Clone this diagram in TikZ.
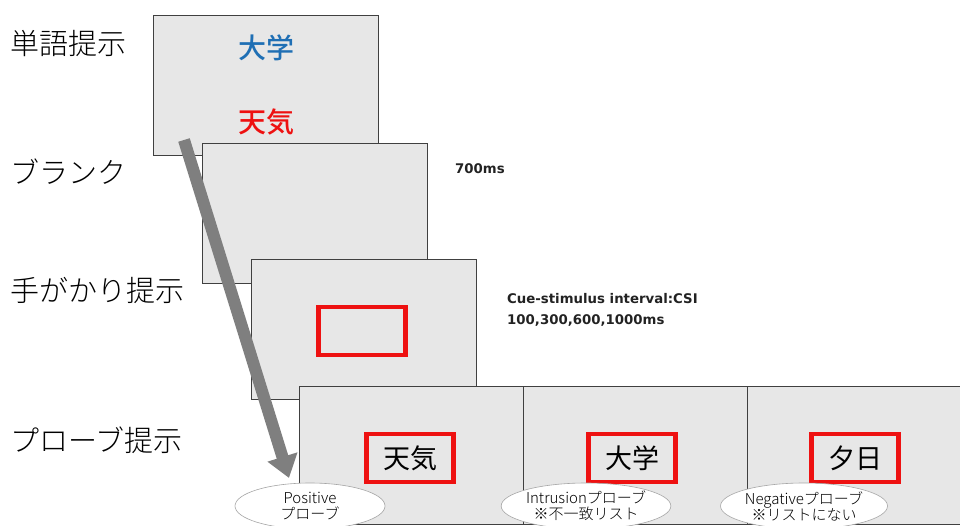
\documentclass[tikz,border=0pt]{standalone}
\usepackage{fontspec}
\setmainfont{Noto Sans CJK JP}
\newfontfamily\jpl{Noto Sans CJK JP Light}
\newfontfamily\jpm{Noto Sans CJK JP Medium}
\newfontfamily\lat{DejaVu Sans}
\usetikzlibrary{arrows.meta,shapes.geometric}
\definecolor{boxfill}{HTML}{E7E7E7}
\definecolor{boxline}{HTML}{404040}
\definecolor{wblue}{HTML}{1F6FB4}
\definecolor{wred}{HTML}{EE1111}
\definecolor{arrowgray}{HTML}{7F7F7F}
\definecolor{txt}{HTML}{222222}
\tikzset{
  screen/.style={draw=boxline, fill=boxfill, line width=0.9pt, minimum width=225pt, minimum height=140pt, anchor=north west, inner sep=0pt, outer sep=0pt},
  panel/.style={draw=boxline, fill=boxfill, line width=0.9pt, minimum width=224pt, minimum height=138pt, anchor=north west, inner sep=0pt, outer sep=0pt},
  rowlabel/.style={anchor=west, font=\jpl\fontsize{29}{32}\selectfont, inner sep=0pt},
  word/.style={font=\jpm\fontsize{28}{32}\selectfont, inner sep=0pt},
  redframe/.style={draw=wred, line width=4.5pt, minimum width=87pt, minimum height=48pt, inner sep=0pt, font=\fontsize{27}{30}\selectfont},
  timing/.style={anchor=west, text=txt, font=\lat\bfseries\fontsize{13.3}{16}\selectfont, inner sep=0pt, align=left},
  bubble/.style={ellipse, draw=gray!70, fill=white, line width=0.6pt, minimum width=150pt, minimum height=46pt, inner sep=0pt, align=center, font=\jpl\fontsize{15}{16}\selectfont},
}
\begin{document}
\begin{tikzpicture}[x=1pt,y=-1pt]
\useasboundingbox (0,0) rectangle (960,526);
\clip (0,0) rectangle (960,526);
% row labels
\node[rowlabel] (l1) at (10,44) {単語提示};
\node[rowlabel] (l2) at (10,172) {ブランク};
\node[rowlabel] (l3) at (10,290) {手がかり提示};
\node[rowlabel] (l4) at (10,440) {プローブ提示};
% screens
\node[screen] (b1) at (153,15) {};
\node[word, text=wblue] (w1) at (266,48) {大学};
\node[word, text=wred] (w2) at (266,122) {天気};
\node[screen] (b2) at (202,143) {};
\node[screen] (b3) at (251,259) {};
\node[redframe] (cue) at (362,331) {};
\node[panel] (p1) at (299,386) {};
\node[panel] (p2) at (523,386) {};
\node[panel] (p3) at (747,386) {};
\node[redframe] (r1) at (410,458) {天気};
\node[redframe] (r2) at (632,458) {大学};
\node[redframe] (r3) at (855,458) {夕日};
% timing texts
\node[timing] (t1) at (455,169) {700ms};
\node[timing] (t2) at (507,310) {Cue-stimulus interval:CSI\\[5pt]100,300,600,1000ms};
% arrow
\coordinate (as) at (184,140);
\coordinate (ae) at (289,478);
\draw[arrowgray, line width=12pt, -{Triangle[width=30pt,length=22pt]}] (as) -- (ae);
% bubbles
\node[bubble] (e1) at (310,506) {Positive\\プローブ};
\node[bubble] (e2) at (586,506) {Intrusionプローブ\\※不一致リスト};
\node[bubble] (e3) at (804,506) {Negativeプローブ\\※リストにない};
\end{tikzpicture}
\end{document}
